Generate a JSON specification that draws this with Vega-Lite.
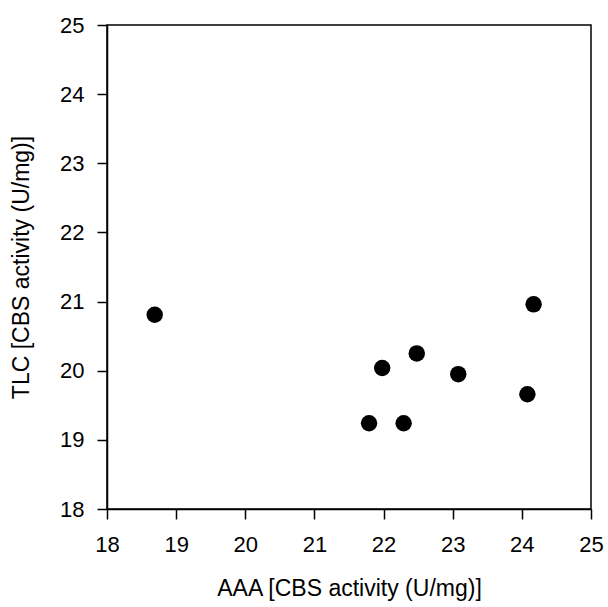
{
  "$schema": "https://vega.github.io/schema/vega-lite/v6.json",
  "width": 484,
  "height": 484,
  "autosize": "none",
  "padding": {"left": 107, "top": 25, "right": 17, "bottom": 98},
  "background": "white",
  "config": {
    "font": "Liberation Sans",
    "view": {"stroke": "black", "strokeWidth": 1.5},
    "axis": {
      "grid": false,
      "domainColor": "black",
      "domainWidth": 1.5,
      "tickColor": "black",
      "tickWidth": 1.5,
      "tickSize": 10,
      "labelFlush": false,
      "labelOverlap": false,
      "labelFont": "Liberation Sans",
      "labelFontSize": 22,
      "labelColor": "black",
      "titleFont": "Liberation Sans",
      "titleFontSize": 23,
      "titleFontWeight": "normal",
      "titleColor": "black"
    }
  },
  "data": {
    "values": [
      {"AAA": 18.69, "TLC": 20.81},
      {"AAA": 21.98, "TLC": 20.04},
      {"AAA": 22.48, "TLC": 20.25},
      {"AAA": 23.08, "TLC": 19.95},
      {"AAA": 24.17, "TLC": 20.96},
      {"AAA": 24.08, "TLC": 19.66},
      {"AAA": 21.79, "TLC": 19.24},
      {"AAA": 22.29, "TLC": 19.24}
    ]
  },
  "mark": {"type": "point", "filled": true, "color": "black", "opacity": 1, "size": 270},
  "encoding": {
    "x": {
      "field": "AAA",
      "type": "quantitative",
      "scale": {"domain": [18, 25], "nice": false, "zero": false},
      "axis": {"values": [18, 19, 20, 21, 22, 23, 24, 25], "labelPadding": 15, "titlePadding": 22, "title": "AAA [CBS activity (U/mg)]"}
    },
    "y": {
      "field": "TLC",
      "type": "quantitative",
      "scale": {"domain": [18, 25], "nice": false, "zero": false},
      "axis": {"values": [18, 19, 20, 21, 22, 23, 24, 25], "labelPadding": 13, "titlePadding": 26, "title": "TLC [CBS activity (U/mg)]"}
    }
  }
}
